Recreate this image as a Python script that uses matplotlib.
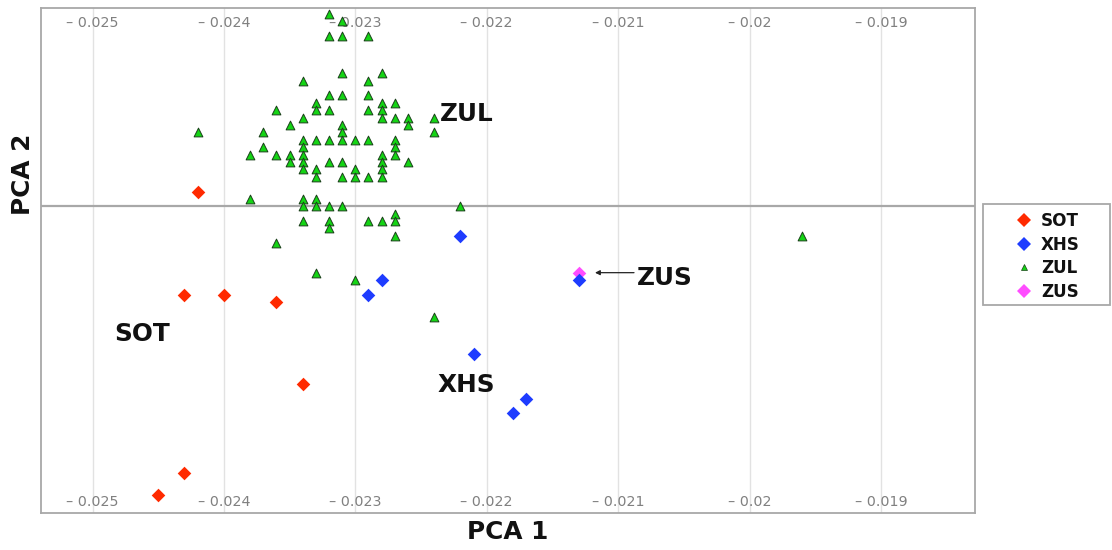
import matplotlib
matplotlib.use("Agg")
import matplotlib.pyplot as plt
from matplotlib.patches import Rectangle
from matplotlib.lines import Line2D

# ---------------- data ----------------
sot_x = [-0.0242, -0.0243, -0.0240, -0.0236, -0.0234, -0.0243, -0.0245]
sot_y = [0.0002, -0.0012, -0.0012, -0.0013, -0.0024, -0.0036, -0.0039]

xhs_x = [-0.0222, -0.0228, -0.0229, -0.0221, -0.0217, -0.0218, -0.0213]
xhs_y = [-0.0004, -0.0010, -0.0012, -0.0020, -0.0026, -0.0028, -0.0010]

zus_x = [-0.0213]
zus_y = [-0.0009]

zul_x = ([-0.0242] * 1 + [-0.0238] * 2 + [-0.0237] * 2 + [-0.0236] * 3 +
         [-0.0235] * 3 + [-0.0234] * 10 + [-0.0233] * 8 + [-0.0232] * 9 +
         [-0.0231] * 10 + [-0.0230] * 4 + [-0.0229] * 7 + [-0.0228] * 9 +
         [-0.0227] * 8 + [-0.0226] * 3 + [-0.0224] * 3 + [-0.0222] * 1 +
         [-0.0196] * 1)
zul_y = [0.0010,
         0.0007, 0.0001,
         0.0010, 0.0008,
         0.0013, 0.0007, -0.0005,
         0.0011, 0.0007, 0.0006,
         0.0017, 0.0012, 0.0009, 0.0008, 0.0007, 0.0006, 0.0005, 0.0001, 0.0000, -0.0002,
         0.0014, 0.0013, 0.0009, 0.0005, 0.0004, 0.0001, 0.0000, -0.0009,
         0.0026, 0.0023, 0.0015, 0.0013, 0.0009, 0.0006, 0.0000, -0.0002, -0.0003,
         0.0025, 0.0023, 0.0018, 0.0015, 0.0011, 0.0010, 0.0009, 0.0006, 0.0004, 0.0000,
         0.0009, 0.0005, 0.0004, -0.0010,
         0.0023, 0.0017, 0.0015, 0.0013, 0.0009, 0.0004, -0.0002,
         0.0018, 0.0014, 0.0013, 0.0012, 0.0007, 0.0006, 0.0005, 0.0004, -0.0002,
         0.0014, 0.0012, 0.0009, 0.0008, 0.0007, -0.0001, -0.0002, -0.0004,
         0.0012, 0.0011, 0.0006,
         0.0012, 0.0010, -0.0015,
         0.0000,
         -0.0004]

x_ticks = [-0.025, -0.024, -0.023, -0.022, -0.021, -0.020, -0.019]
x_tick_labels = ["\u2013 0.025", "\u2013 0.024", "\u2013 0.023", "\u2013 0.022",
                 "\u2013 0.021", "\u2013 0.02", "\u2013 0.019"]

group_names = ["SOT", "XHS", "ZUL", "ZUS"]

# ---------------- figure ----------------
W, H = 1112, 550
fig = plt.figure(figsize=(W / 100, H / 100), dpi=100)
ax = fig.add_axes([41 / W, (H - 512.7) / H, 934 / W, 504.4 / H])

ax.set_xlim(-0.025392, -0.018284)
ax.set_ylim(-0.004141, 0.002676)

for s in ax.spines.values():
    s.set_color("#a8a8a8")
    s.set_linewidth(1.3)

ax.set_xticks(x_ticks)
ax.set_yticks([])
ax.tick_params(axis="x", length=0, labelbottom=False)
ax.grid(axis="x", color="#e2e2e2", linewidth=1.0)
ax.set_axisbelow(True)
ax.axhline(0, color="#a8a8a8", linewidth=1.6, zorder=1)

# tick labels drawn inside the plot, top and bottom
tr = ax.get_xaxis_transform()
for xv, lab in zip(x_ticks, x_tick_labels):
    for yv in (0.9635, 0.0127):
        ax.text(xv, yv, lab, transform=tr, ha="center", va="baseline",
                fontsize=10.3, color="#808080", family="DejaVu Sans")

red = "#ff2a00"
blue = "#1e3cff"
green = "#14d414"
pink = "#ff4dff"

s_d = 48
ax.scatter(sot_x, sot_y, marker="D", s=s_d, color=red, linewidths=0, zorder=3,
           label=group_names[0])
ax.scatter(xhs_x, xhs_y, marker="D", s=s_d, color=blue, linewidths=0, zorder=3,
           label=group_names[1])
ax.scatter(zul_x, zul_y, marker="^", s=40, color=green, edgecolors="#1a401a",
           linewidths=0.7, zorder=4, label=group_names[2])
ax.scatter(zus_x, zus_y, marker="D", s=s_d, color=pink, linewidths=0, zorder=2,
           label=group_names[3])

# group annotations
lab_kw = dict(fontsize=17.8, fontweight="bold", color="#111111",
              va="baseline", ha="left", family="DejaVu Sans")
ax.text(-0.022355, 0.001157, "ZUL", **lab_kw)
ax.text(-0.024836, -0.001827, "SOT", **lab_kw)
ax.text(-0.022373, -0.002509, "XHS", **lab_kw)
ax.text(-0.020859, -0.001070, "ZUS", **lab_kw)
ax.annotate("", xy=(-0.021176, -0.000897), xytext=(-0.020879, -0.000897),
            arrowprops=dict(arrowstyle="-|>", color="#222222", lw=0.9,
                            mutation_scale=7, shrinkA=0, shrinkB=0))

# axis labels
ax.set_xlabel("PCA 1", fontsize=17.8, fontweight="bold", color="#111111")
ax.xaxis.set_label_coords(0.5, -0.0145)
ax.set_ylabel("PCA 2", fontsize=17.8, fontweight="bold", color="#111111")
ax.yaxis.set_label_coords(-0.006, 0.6705)

# legend
handles = [
    Line2D([], [], linestyle="none", marker="D", markersize=6.8, color=red, markeredgewidth=0),
    Line2D([], [], linestyle="none", marker="D", markersize=6.8, color=blue, markeredgewidth=0),
    Line2D([], [], linestyle="none", marker="^", markersize=5.0, color=green,
           markeredgecolor="#1a401a", markeredgewidth=0.5),
    Line2D([], [], linestyle="none", marker="D", markersize=6.8, color=pink, markeredgewidth=0),
]
leg = fig.legend(handles, group_names, loc="upper left",
                 bbox_to_anchor=(1015.7 / W, 1 - 212 / H),
                 frameon=False, borderpad=0, borderaxespad=0,
                 handlelength=1.0, handletextpad=0.5, labelspacing=0.33,
                 prop=dict(family="DejaVu Sans", weight="bold", size=12.1))
for t in leg.get_texts():
    t.set_color("#111111")

fig.patches.append(Rectangle((982.5 / W, 1 - 305 / H), (1110 - 982.5) / W, 101 / H,
                             transform=fig.transFigure, fill=False,
                             edgecolor="#a8a8a8", linewidth=1.3))

fig.savefig("out.png", dpi=100)
